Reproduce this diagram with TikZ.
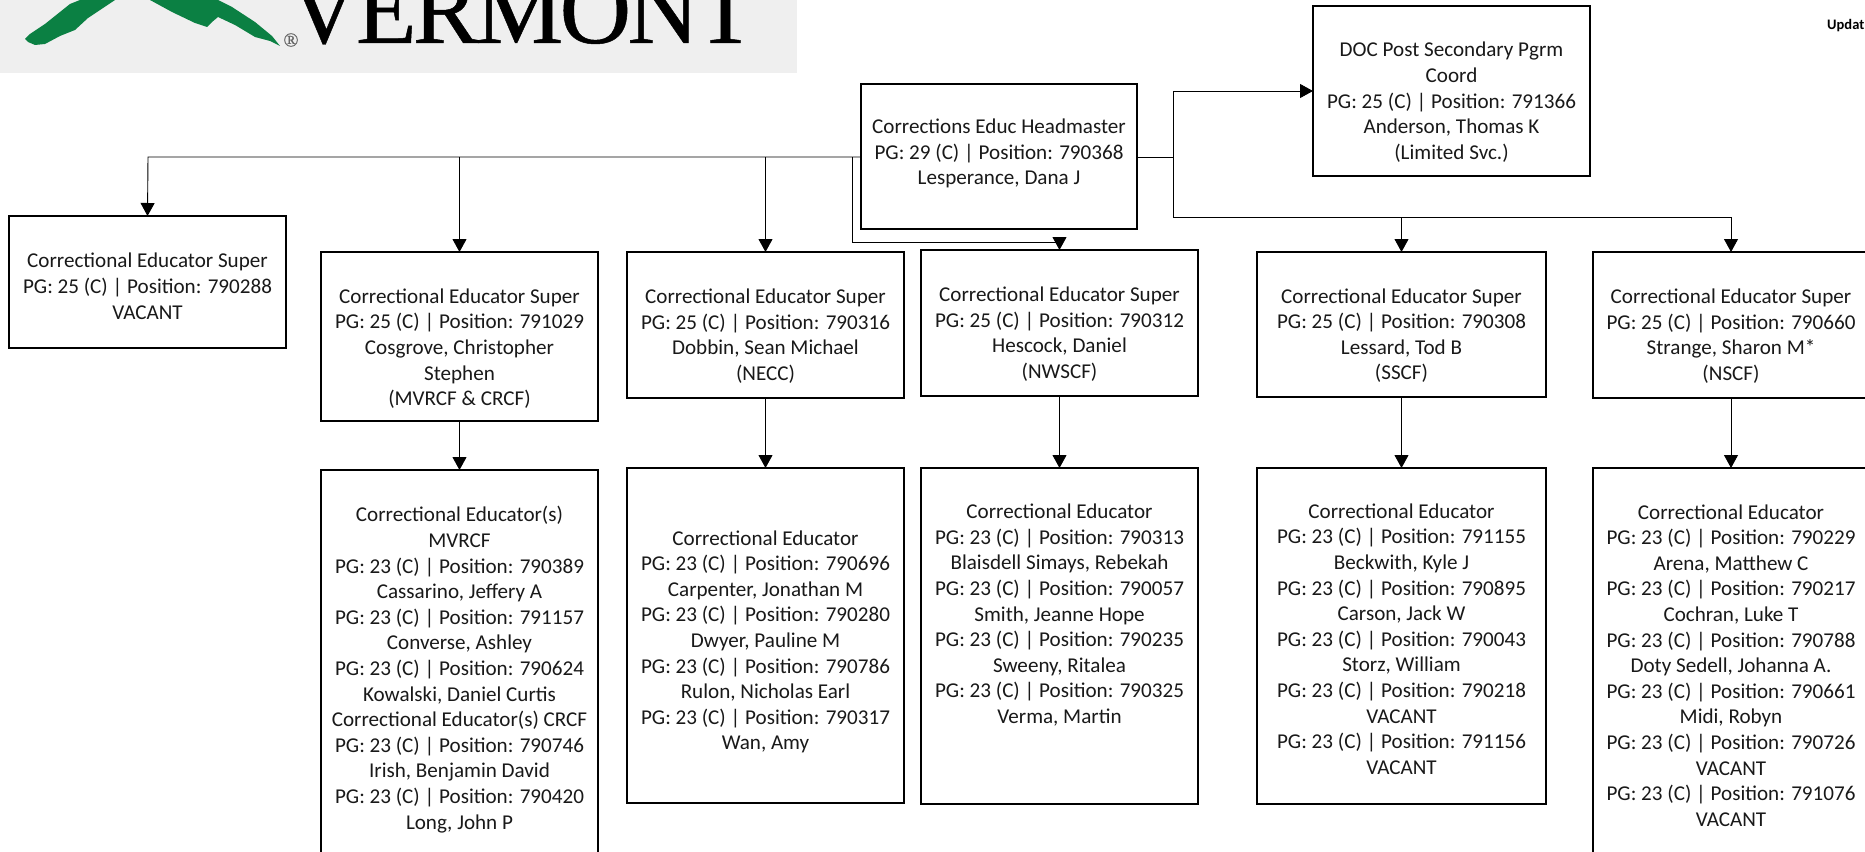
\documentclass[tikz,border=0pt]{standalone}
\usepackage{fontspec}
\usetikzlibrary{arrows.meta}
\setmainfont{Carlito}
\newfontfamily\logofont[FakeBold=0.5,LetterSpace=-3.7]{Liberation Serif}
\newfontfamily\regfont[FakeBold=0.5]{Liberation Serif}
\definecolor{logog}{HTML}{0B8043}
\definecolor{logobg}{HTML}{EFEFEF}
\tikzset{
  x=1pt,y=-1pt,
  orgbox/.style={draw=black,line width=1.4pt,fill=white,anchor=north west,inner sep=0pt,outer sep=0pt,align=center,font=\fontsize{21.1pt}{25.6pt}\selectfont,text=black!90},
  link/.style={draw=black,line width=0.9pt},
  tip/.style={-{Triangle[length=13pt,width=14pt]}},
}
% #6 extra height on top, #7 extra depth below (both shift the text), #8 text
\newcommand{\orgnode}[8]{\node[orgbox,minimum width=#4pt,minimum height=#5pt] (#1) at (#2,#3) {\rule{0pt}{\dimexpr16pt+#6pt\relax}#8\rule[-\dimexpr5pt+#7pt\relax]{0pt}{\dimexpr5pt+#7pt\relax}};}
\begin{document}
\begin{tikzpicture}
\useasboundingbox (0,0) rectangle (1865,851);
\clip (0,0) rectangle (1865,851);
% logo
\fill[logobg] (0,0) rectangle (797,73);
\fill[logog] (25,39) -- (30,34) -- (45,24) -- (70,4) -- (80,0) -- (115,0) -- (100,10) -- (88,18) -- (75,30) -- (60,36) -- (45,44) -- (35,45) -- (28,42) -- cycle;
\fill[logog] (150,0) -- (172,12) -- (195,23) -- (207,27) -- (212,22) -- (218,17) -- (235,25) -- (255,37) -- (270,41) -- (280,46) -- (272,36) -- (255,22) -- (232,7) -- (218,0) -- cycle;
\node[font=\logofont\fontsize{99pt}{99pt}\selectfont,anchor=base west,inner sep=0pt] (logotext) at (288,43) {VERMONT};
\node[font=\regfont\fontsize{20pt}{20pt}\selectfont,text=black!60,inner sep=0pt] (logoreg) at (291,40) {®};
\node[font=\bfseries\fontsize{14.5pt}{16pt}\selectfont,anchor=base west,inner sep=0pt] (upd) at (1827,30) {Updat};
% boxes
\orgnode{head}{861}{84}{276}{145}{0}{6}{Corrections Educ Headmaster\\PG: 29 (C) | Position: 790368\\Lesperance, Dana J}
\orgnode{doc}{1313}{6}{277}{170}{23}{0}{DOC Post Secondary Pgrm\\Coord\\PG: 25 (C) | Position: 791366\\Anderson, Thomas K\\(Limited Svc.)}
\orgnode{a}{9}{216}{277}{132}{12}{0}{Correctional Educator Super\\PG: 25 (C) | Position: 790288\\VACANT}
\orgnode{b}{321}{252}{277}{169}{25}{0}{Correctional Educator Super\\PG: 25 (C) | Position: 791029\\Cosgrove, Christopher\\Stephen\\(MVRCF \& CRCF)}
\orgnode{c}{627}{252}{277}{146}{23}{0}{Correctional Educator Super\\PG: 25 (C) | Position: 790316\\Dobbin, Sean Michael\\(NECC)}
\orgnode{d}{921}{250}{277}{146}{23}{0}{Correctional Educator Super\\PG: 25 (C) | Position: 790312\\Hescock, Daniel\\(NWSCF)}
\orgnode{e}{1257}{252}{289}{145}{23}{0}{Correctional Educator Super\\PG: 25 (C) | Position: 790308\\Lessard, Tod B\\(SSCF)}
\orgnode{f}{1593}{252}{276}{146}{23}{0}{Correctional Educator Super\\PG: 25 (C) | Position: 790660\\Strange, Sharon M*\\(NSCF)}
\orgnode{bb}{321}{470}{277}{400}{0}{0}{Correctional Educator(s)\\MVRCF\\PG: 23 (C) | Position: 790389\\Cassarino, Jeffery A\\PG: 23 (C) | Position: 791157\\Converse, Ashley\\PG: 23 (C) | Position: 790624\\Kowalski, Daniel Curtis\\Correctional Educator(s) CRCF\\PG: 23 (C) | Position: 790746\\Irish, Benjamin David\\PG: 23 (C) | Position: 790420\\Long, John P}
\orgnode{cc}{627}{468}{277}{335}{13}{0}{Correctional Educator\\PG: 23 (C) | Position: 790696\\Carpenter, Jonathan M\\PG: 23 (C) | Position: 790280\\Dwyer, Pauline M\\PG: 23 (C) | Position: 790786\\Rulon, Nicholas Earl\\PG: 23 (C) | Position: 790317\\Wan, Amy}
\orgnode{dd}{921}{468}{277}{336}{0}{41}{Correctional Educator\\PG: 23 (C) | Position: 790313\\Blaisdell Simays, Rebekah\\PG: 23 (C) | Position: 790057\\Smith, Jeanne Hope\\PG: 23 (C) | Position: 790235\\Sweeny, Ritalea\\PG: 23 (C) | Position: 790325\\Verma, Martin}
\orgnode{ee}{1257}{468}{289}{336}{9.4}{0}{Correctional Educator\\PG: 23 (C) | Position: 791155\\Beckwith, Kyle J\\PG: 23 (C) | Position: 790895\\Carson, Jack W\\PG: 23 (C) | Position: 790043\\Storz, William\\PG: 23 (C) | Position: 790218\\VACANT\\PG: 23 (C) | Position: 791156\\VACANT}
\orgnode{ff}{1593}{468}{276}{400}{0}{1.5}{Correctional Educator\\PG: 23 (C) | Position: 790229\\Arena, Matthew C\\PG: 23 (C) | Position: 790217\\Cochran, Luke T\\PG: 23 (C) | Position: 790788\\Doty Sedell, Johanna A.\\PG: 23 (C) | Position: 790661\\Midi, Robyn\\PG: 23 (C) | Position: 790726\\VACANT\\PG: 23 (C) | Position: 791076\\VACANT}
% connectors
\coordinate (ll) at (148,157);
\coordinate (rr) at (1173,157);
\coordinate (rb) at (1173,217);
\coordinate (nl) at (852,157);
\draw[link,tip] (head.west |- ll) -- (ll) -- (a.north);
\draw[link,tip] (b.north |- ll) -- (b.north);
\draw[link,tip] (c.north |- ll) -- (c.north);
\draw[link,tip] (nl) -- (852,242) -- (d.north |- 0,242) -- (d.north);
\draw[link] (head.east |- rr) -- (rr) -- (rb);
\draw[link,tip] (rr) |- (doc.west |- 0,91);
\draw[link,tip] (rb) -| (f.north);
\draw[link,tip] (e.north |- rb) -- (e.north);
\draw[link,tip] (b) -- (bb);
\draw[link,tip] (c) -- (cc);
\draw[link,tip] (d) -- (dd);
\draw[link,tip] (e) -- (ee);
\draw[link,tip] (f) -- (ff);
\end{tikzpicture}
\end{document}
